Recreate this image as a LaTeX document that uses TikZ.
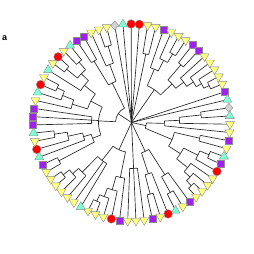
\documentclass[tikz,border=0pt]{standalone}
\usepackage{fontspec}
\setsansfont{Liberation Sans}
\usetikzlibrary{shapes.geometric}
\definecolor{ycol}{HTML}{FFFF80}
\definecolor{ccol}{HTML}{7FFFD4}
\definecolor{pcol}{HTML}{A020F0}
\definecolor{rcol}{HTML}{FF0000}
\definecolor{gcol}{HTML}{D3D3D3}
\newcommand\A[1]{104.6-4.8*(#1)}
\newcommand\tipbr[2]{\draw[tree] ({\A{#1}}:#2pt) -- ({\A{#1}}:98.5pt);}
\newcommand\cladebr[5]{%
  \draw[tree] ({\A{#1}}:#3pt) -- ({\A{#1}}:#2pt);
  \draw[tree] ({\A{#4}}:#2pt) arc[start angle={\A{#4}}, end angle={\A{#5}}, radius=#2pt];}
\begin{document}
\begin{tikzpicture}[x=1pt,y=1pt,
  tree/.style={line width=0.65pt, black!85},
  mk/.style={draw=black!45, line width=0.4pt, inner sep=0pt, outer sep=0pt},
  yk/.style={mk, regular polygon, regular polygon sides=3, shape border rotate=180, minimum size=10.5pt, fill=ycol},
  ck/.style={mk, regular polygon, regular polygon sides=3, minimum size=10.5pt, fill=ccol},
  pk/.style={mk, rectangle, minimum size=7pt, fill=pcol},
  rk/.style={mk, circle, minimum size=8.6pt, fill=rcol},
  gk/.style={mk, diamond, minimum width=8pt, minimum height=9pt, fill=gcol}]
\useasboundingbox (0,0) rectangle (254,254);
\node[font=\sffamily\bfseries\fontsize{9}{9}\selectfont] (lab) at (4.7,215.7) {a};
\begin{scope}[shift={(131.5,131.5)}]
% top
\tipbr{1}{0}\tipbr{2}{0}\tipbr{3}{0}\tipbr{4}{0}
\cladebr{5.5}{70}{0}{5}{6}\tipbr{5}{70}\tipbr{6}{70}
\cladebr{10.296875}{40}{0}{7.875}{12.71875}
\cladebr{7.875}{58}{40}{7}{8.75}\tipbr{7}{58}
\cladebr{8.75}{70}{58}{8}{9.5}\tipbr{8}{70}
\cladebr{9.5}{80}{70}{9}{10}\tipbr{9}{80}\tipbr{10}{80}
\cladebr{12.71875}{56}{40}{11.5}{13.9375}
\cladebr{11.5}{76}{56}{11}{12}\tipbr{11}{76}\tipbr{12}{76}
\cladebr{13.9375}{66}{56}{13}{14.875}\tipbr{13}{66}
\cladebr{14.875}{74}{66}{14}{15.75}\tipbr{14}{74}
\cladebr{15.75}{80}{74}{15}{16.5}\tipbr{15}{80}
\cladebr{16.5}{86}{80}{16}{17}\tipbr{16}{86}\tipbr{17}{86}
\tipbr{18}{0}\tipbr{19}{0}
% right
\cladebr{24.328125}{15}{0}{22.125}{26.53125}
\cladebr{22.125}{33}{15}{21.25}{23}\tipbr{23}{33}
\cladebr{21.25}{48}{33}{20.5}{22}\tipbr{22}{48}
\cladebr{20.5}{70}{48}{20}{21}\tipbr{20}{70}\tipbr{21}{70}
\cladebr{26.53125}{44}{15}{24.5}{28.5625}
\cladebr{24.5}{70}{44}{24}{25}\tipbr{24}{70}\tipbr{25}{70}
\cladebr{28.5625}{58}{44}{27.25}{29.875}
\cladebr{27.25}{74}{58}{26.5}{28}\tipbr{28}{74}
\cladebr{26.5}{84}{74}{26}{27}\tipbr{26}{84}\tipbr{27}{84}
\cladebr{29.875}{72}{58}{29}{30.75}\tipbr{29}{72}
\cladebr{30.75}{80}{72}{30}{31.5}\tipbr{30}{80}
\cladebr{31.5}{87}{80}{31}{32}\tipbr{31}{87}\tipbr{32}{87}
% bottom right
\cladebr{35.25}{32}{0}{33.75}{36.75}
\cladebr{33.75}{62}{32}{33}{34.5}\tipbr{33}{62}
\cladebr{34.5}{80}{62}{34}{35}\tipbr{34}{80}\tipbr{35}{80}
\cladebr{36.75}{54}{32}{36}{37.5}\tipbr{36}{54}
\cladebr{37.5}{74}{54}{37}{38}\tipbr{37}{74}\tipbr{38}{74}
% bottom
\cladebr{40}{46}{0}{39}{41}\tipbr{39}{46}\tipbr{40}{46}\tipbr{41}{46}
% bottom left
\cladebr{45.6875}{30}{0}{42.9375}{48.4375}
\cladebr{42.9375}{56}{30}{42}{43.875}\tipbr{42}{56}
\cladebr{43.875}{70}{56}{43}{44.75}\tipbr{43}{70}
\cladebr{44.75}{79}{70}{44}{45.5}\tipbr{44}{79}
\cladebr{45.5}{86}{79}{45}{46}\tipbr{45}{86}\tipbr{46}{86}
\cladebr{48.4375}{48}{30}{47}{49.875}\tipbr{47}{48}\tipbr{48}{48}
\cladebr{49.875}{70}{48}{49}{50.75}\tipbr{49}{70}
\cladebr{50.75}{78}{70}{50}{51.5}\tipbr{50}{78}
\cladebr{51.5}{86}{78}{51}{52}\tipbr{51}{86}\tipbr{52}{86}
% left
\cladebr{66.25}{16}{0}{59.875}{72.625}
\cladebr{59.875}{33}{16}{54.6875}{65.0625}
\cladebr{54.6875}{42}{33}{53.5}{55.875}
\cladebr{53.5}{82}{42}{53}{54}\tipbr{53}{82}\tipbr{54}{82}
\cladebr{55.875}{50}{42}{55}{56.75}\tipbr{55}{50}
\cladebr{56.75}{65}{50}{56}{57.5}\tipbr{56}{65}
\cladebr{57.5}{78}{65}{57}{58}\tipbr{57}{78}\tipbr{58}{78}
\cladebr{60}{40}{33}{59}{61}\tipbr{59}{40}\tipbr{60}{40}\tipbr{61}{40}
\cladebr{65.0625}{46}{33}{62.875}{67.25}
\cladebr{62.875}{62}{46}{62}{63.75}\tipbr{62}{62}
\cladebr{63.75}{74}{62}{63}{64.5}\tipbr{63}{74}
\cladebr{64.5}{82}{74}{64}{65}\tipbr{64}{82}\tipbr{65}{82}
\cladebr{67.25}{60}{46}{66}{68.5}\tipbr{66}{60}
\cladebr{68.5}{70}{60}{67.5}{69.5}
\cladebr{67.5}{84}{70}{67}{68}\tipbr{67}{84}\tipbr{68}{84}
\cladebr{69.5}{80}{70}{69}{70}\tipbr{69}{80}\tipbr{70}{80}
% top left
\cladebr{72.625}{44}{16}{71.5}{73.75}
\cladebr{71.5}{72}{44}{71}{72}\tipbr{71}{72}\tipbr{72}{72}
\cladebr{73.75}{62}{44}{73}{74.5}\tipbr{73}{62}
\cladebr{74.5}{80}{62}{74}{75}\tipbr{74}{80}\tipbr{75}{80}
% tips
\foreach \i/\s in {1/gk,2/ck,3/rk,4/rk,5/yk,6/yk,7/pk,8/yk,9/yk,10/yk,
  11/pk,12/pk,13/yk,14/yk,15/yk,16/yk,17/yk,18/pk,19/ck,20/gk,
  21/ck,22/yk,23/yk,24/pk,25/yk,26/ck,27/pk,28/rk,29/yk,30/yk,
  31/yk,32/yk,33/pk,34/yk,35/ck,36/rk,37/yk,38/pk,39/yk,40/yk,
  41/yk,42/pk,43/rk,44/yk,45/yk,46/yk,47/ck,48/yk,49/yk,50/yk,
  51/yk,52/yk,53/yk,54/pk,55/ck,56/rk,57/yk,58/ck,59/pk,60/pk,
  61/pk,62/yk,63/ck,64/rk,65/yk,66/ck,67/yk,68/rk,69/yk,70/ck,
  71/pk,72/pk,73/yk,74/yk,75/yk}
  \node[\s] (t\i) at ({\A{\i}}:98.5pt) {};
\end{scope}
\end{tikzpicture}
\end{document}
